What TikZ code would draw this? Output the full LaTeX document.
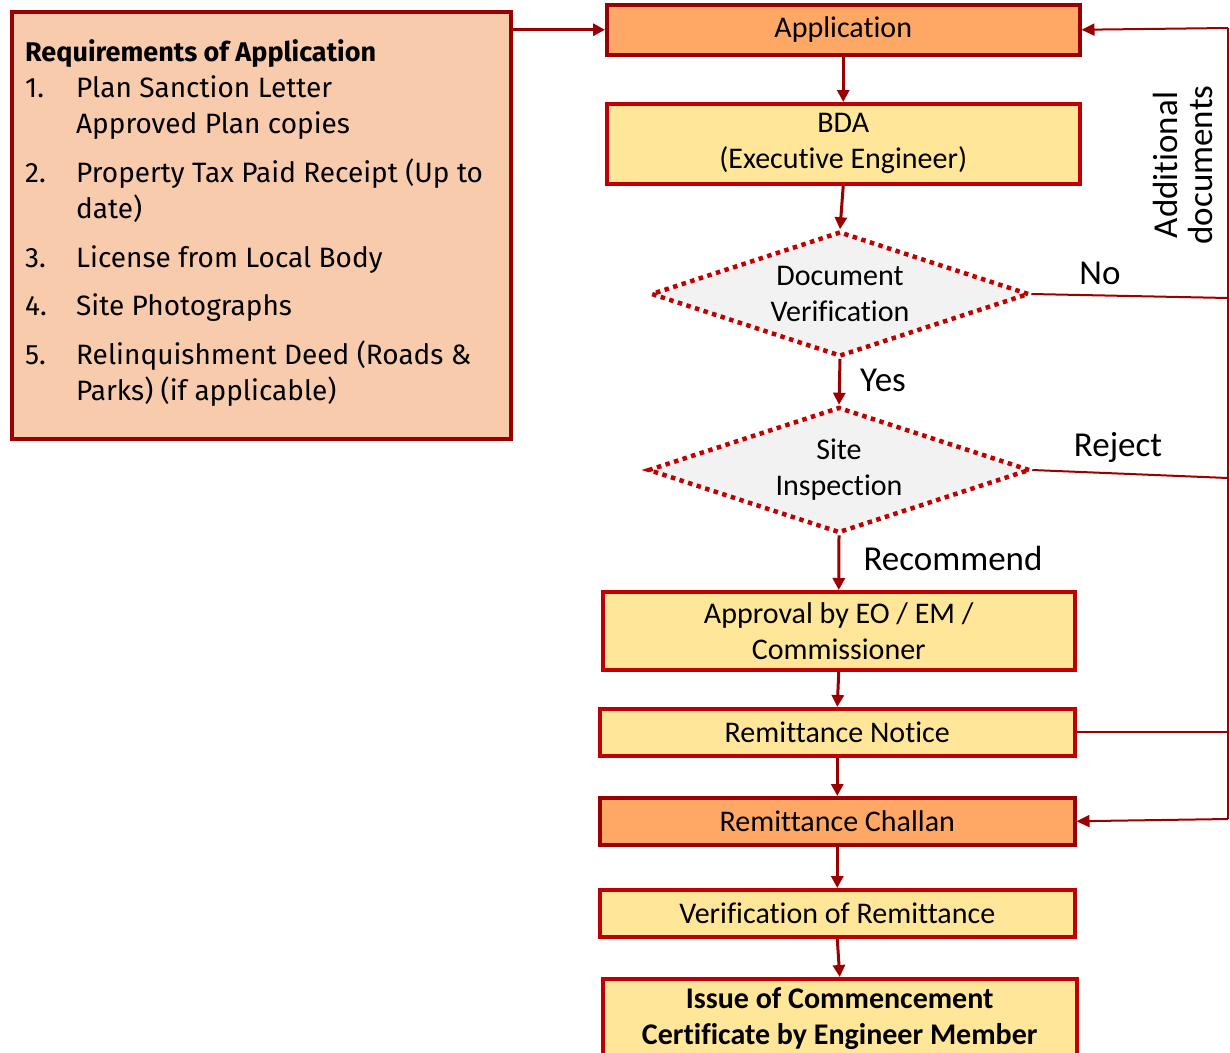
\documentclass[tikz,border=0pt]{standalone}
\usepackage{fontspec}
\setmainfont{Carlito}[Ligatures=NoCommon]
\newfontfamily\reqfont{Fira Sans}
\usetikzlibrary{arrows.meta,shapes.geometric}
\definecolor{darkred}{HTML}{9A0000}
\definecolor{brightred}{HTML}{C00000}
\definecolor{peach}{HTML}{F8CBAD}
\definecolor{orangefill}{HTML}{FFA865}
\definecolor{yellowfill}{HTML}{FFE699}
\definecolor{greyfill}{HTML}{F2F2F2}
\begin{document}
\begin{tikzpicture}[x=1pt,y=-1pt,
  boxbase/.style={line width=3.5pt, inner sep=0pt, anchor=north west, align=center,
    font=\fontsize{30}{36}\selectfont},
  ybox/.style={boxbase, draw=brightred, fill=yellowfill},
  obox/.style={boxbase, draw=darkred, fill=orangefill},
  dmd/.style={shape=diamond, aspect=3, draw=brightred, fill=greyfill, line width=4.5pt,
    dash pattern=on 4.5pt off 4.5pt, inner sep=0pt, align=center,
    font=\fontsize{30}{36}\selectfont},
  arr/.style={draw=darkred, line width=3pt, -{Triangle[length=12pt,width=12pt]}},
  fb/.style={draw=darkred, line width=2pt},
  fbarr/.style={fb, -{Triangle[length=13pt,width=12pt]}},
  lbl/.style={font=\fontsize{35}{35}\selectfont, inner sep=0pt},
  req/.style={font=\reqfont\fontsize{28}{30}\selectfont, anchor=base west, inner sep=0pt},
  reqb/.style={font=\reqfont\bfseries\fontsize{27}{30}\selectfont, anchor=base west, inner sep=0pt}
]
\useasboundingbox[fill=white] (0,0) rectangle (1230,1052);

% requirements box
\node[draw=darkred, fill=peach, line width=4pt, anchor=north west, inner sep=0pt,
  minimum width=499pt, minimum height=427pt] (reqbox) at (10,10) {};
\node[reqb] (rh) at (25,61) {Requirements of Application};
\node[req] (n1) at (25,97) {1.};
\node[req] (t1a) at (76,97) {Plan Sanction Letter};
\node[req] (t1b) at (76,133) {Approved Plan copies};
\node[req] (n2) at (25,182) {2.};
\node[req] (t2a) at (76,182) {Property Tax Paid Receipt (Up to};
\node[req] (t2b) at (76,218) {date)};
\node[req] (n3) at (25,267) {3.};
\node[req] (t3) at (76,267) {License from Local Body};
\node[req] (n4) at (25,315) {4.};
\node[req] (t4) at (76,315) {Site Photographs};
\node[req] (n5) at (25,364) {5.};
\node[req] (t5a) at (76,364) {Relinquishment Deed (Roads \&};
\node[req] (t5b) at (76,400) {Parks) (if applicable)};

% flow boxes
\node[obox, minimum width=473pt, minimum height=50pt] (app) at (605,3) {Application};
\node[ybox, minimum width=473pt, minimum height=80pt] (bda) at (605,102) {BDA\\(Executive Engineer)};
\node[dmd, minimum width=378pt, minimum height=125pt] (dv) at (840,294) {Document\\Verification};
\node[dmd, minimum width=382pt, minimum height=126pt] (si) at (839,470) {Site\\Inspection};
\node[ybox, minimum width=472pt, minimum height=78pt] (apr) at (601,590) {Approval by EO / EM /\\Commissioner};
\node[ybox, minimum width=475pt, minimum height=47pt] (rn) at (598,707) {Remittance Notice};
\node[obox, minimum width=475pt, minimum height=47pt] (rc) at (598,796) {Remittance Challan};
\node[ybox, minimum width=475pt, minimum height=47pt] (vr) at (598,888) {Verification of Remittance};
\node[ybox, minimum width=474pt, minimum height=80pt, font=\bfseries\fontsize{30}{36}\selectfont] (iss) at (601,977) {Issue of Commencement\\Certificate by Engineer Member};

% main arrows
\draw[arr] (reqbox.east |- app.west) -- (app.west);
\draw[arr] (app.south) -- (bda.north);
\draw[arr] (bda.south) -- (dv.north);
\draw[arr] (dv.south) -- (si.north);
\draw[arr] (si.south) -- (apr.north);
\draw[arr] (apr.south) -- (rn.north);
\draw[arr] (rn.south) -- (rc.north);
\draw[arr] (rc.south) -- (vr.north);
\draw[arr] (vr.south) -- (iss.north);

% feedback loop
\coordinate (ftop) at (1228,28);
\coordinate (fno) at (1228,298);
\coordinate (frej) at (1228,478);
\coordinate (fbot) at (1228,819);
\draw[fb] (ftop) -- (fbot);
\draw[fbarr] (ftop) -- (app.east);
\draw[fbarr] (fbot) -- (rc.east);
\draw[fb] (dv.east) -- (fno);
\draw[fb] (si.east) -- (frej);
\draw[fb] (rn.east) -- (rn.east -| fbot);

% labels
\node[lbl] (lno) at (1100,273) {No};
\node[lbl] (lrej) at (1118,447) {Reject};
\node[lbl] (lyes) at (883,380) {Yes};
\node[lbl] (lrec) at (953,558) {Recommend};
\node[lbl, rotate=90, align=center] (ladd) at (1183,165) {Additional\\documents};
\end{tikzpicture}
\end{document}
